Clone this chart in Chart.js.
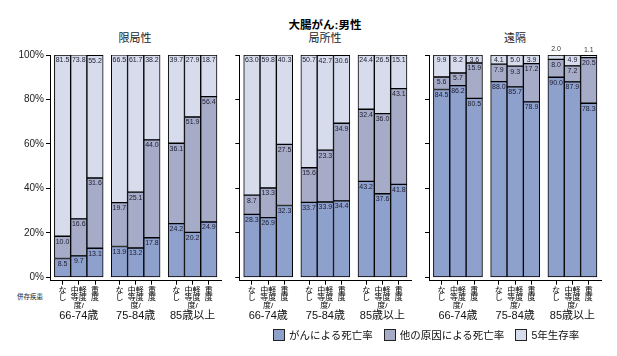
<!DOCTYPE html>
<html><head><meta charset="utf-8">
<script src="https://cdn.jsdelivr.net/npm/chart.js@4/dist/chart.umd.min.js"></script>
<style>
html,body{margin:0;padding:0;background:#fff;}
body{width:617px;height:356px;position:relative;overflow:hidden;font-family:"Liberation Sans","Noto Sans CJK JP",sans-serif;color:#222;}
canvas{position:absolute;top:0;}
.t{position:absolute;transform:translate(-50%,-50%);white-space:nowrap;}
#legend{position:absolute;left:273px;top:327px;display:flex;align-items:center;font-size:10.5px;color:#111;}
#legend .item{display:flex;align-items:center;margin-right:11px;}
#legend .box{width:10px;height:10px;border:1px solid #222;margin-right:4px;}
</style>
</head><body>
<div class="t" style="left:325px;top:24px;font-size:11.5px;font-weight:bold;color:#000;">大腸がん:男性</div>
<div id="ptitles"></div>
<div class="t" style="left:30px;top:296px;font-size:6.5px;color:#222;">併存疾患</div>
<canvas id="c0" width="232" height="356" style="left:0px"></canvas>
<canvas id="c1" width="192" height="356" style="left:228px"></canvas>
<canvas id="c2" width="192" height="356" style="left:418px"></canvas>
<div id="legend"></div>
<script>
// ---- data ----
const stages = ['限局性', '局所性', '遠隔'];
const ageGroups = ['66-74歳', '75-84歳', '85歳以上'];
const comorbidityLabels = [['な', 'し'], ['中軽', '等度', '度/'], ['重', '度']];
const seriesNames = ['がんによる死亡率', '他の原因による死亡率', '5年生存率'];
const seriesColors = ['#8ea0cc', '#a6acc8', '#d6dcec'];
const yTickValues = [0, 20, 40, 60, 80, 100];
const yTickLabels = ['0%', '20%', '40%', '60%', '80%', '100%'];

// order: age group x comorbidity (なし, 中等度/軽度, 重度)
const localizedCancer   = [8.5, 9.7, 13.1, 13.9, 13.2, 17.8, 24.2, 20.2, 24.9];
const localizedOther    = [10.0, 16.6, 31.6, 19.7, 25.1, 44.0, 36.1, 51.9, 56.4];
const localizedSurvival = [81.5, 73.8, 55.2, 66.5, 61.7, 38.2, 39.7, 27.9, 18.7];
const regionalCancer    = [28.3, 26.9, 32.3, 33.7, 33.9, 34.4, 43.2, 37.6, 41.8];
const regionalOther     = [8.7, 13.3, 27.5, 15.6, 23.3, 34.9, 32.4, 36.0, 43.1];
const regionalSurvival  = [63.0, 59.8, 40.3, 50.7, 42.7, 30.6, 24.4, 26.5, 15.1];
const distantCancer     = [84.5, 86.2, 80.5, 88.0, 85.7, 78.9, 90.0, 87.9, 78.3];
const distantOther      = [5.6, 5.7, 15.9, 7.9, 9.3, 17.2, 8.0, 7.2, 20.5];
const distantSurvival   = [9.9, 8.2, 3.6, 4.1, 5.0, 3.9, 2.0, 4.9, 1.1];

const panelSeries = [
  [localizedCancer, localizedOther, localizedSurvival],
  [regionalCancer, regionalOther, regionalSurvival],
  [distantCancer, distantOther, distantSurvival]
];

// ---- layout ----
const GROUP_PITCH = 3.5;
const xPos = i => Math.floor(i / 3) * GROUP_PITCH + (i % 3);
const barXs = localizedCancer.map((_, i) => xPos(i));
const groupCenters = ageGroups.map((_, g) => g * GROUP_PITCH + 1);
const XMIN = -0.77, XMAX = 9.79;
const FONT = '"Liberation Sans", "Noto Sans CJK JP", sans-serif';

const panels = [
  {id: 'c0', padL: 0, padR: 10.3, yW: 50, showY: true, titleX: 135},
  {id: 'c1', padL: 1.3, padR: 8.3, yW: 10, showY: false, titleX: 325},
  {id: 'c2', padL: 1, padR: 8.3, yW: 10, showY: false, titleX: 515}
];

const valueLabels = {
  id: 'valueLabels',
  afterDatasetsDraw(chart) {
    const ctx = chart.ctx;
    ctx.save();
    ctx.font = '7px ' + FONT;
    ctx.fillStyle = '#1c1c30';
    ctx.textAlign = 'center';
    chart.data.datasets.forEach((ds, di) => {
      const meta = chart.getDatasetMeta(di);
      meta.data.forEach((el, i) => {
        const v = ds.data[i].y;
        const txt = v.toFixed(1);
        if (v >= 3) {
          ctx.textBaseline = 'top';
          ctx.fillText(txt, el.x, el.y + 2);
        } else {
          ctx.textBaseline = 'bottom';
          ctx.fillStyle = '#333';
          ctx.fillText(txt, el.x, el.y - 2);
          ctx.fillStyle = '#1c1c30';
        }
      });
    });
    ctx.restore();
  }
};

panels.forEach((p, pi) => {
  const t = document.createElement('div');
  t.className = 't';
  t.style.cssText = `left:${p.titleX}px;top:37px;font-size:11px;color:#222;`;
  t.textContent = stages[pi];
  document.getElementById('ptitles').appendChild(t);

  new Chart(document.getElementById(p.id), {
    type: 'bar',
    data: {
      datasets: panelSeries[pi].map((vals, k) => ({
        label: seriesNames[k],
        data: vals.map((v, i) => ({x: xPos(i), y: v})),
        backgroundColor: seriesColors[k],
        borderColor: '#000',
        borderWidth: 1,
        borderSkipped: false,
        categoryPercentage: 1,
        barPercentage: 1,
        stack: 's'
      }))
    },
    options: {
      responsive: false,
      animation: false,
      events: [],
      layout: {padding: {left: p.padL, right: p.padR, top: 55, bottom: 26.3}},
      plugins: {legend: {display: false}, tooltip: {enabled: false}},
      scales: {
        x: {
          type: 'linear', min: XMIN, max: XMAX, stacked: true, offset: false,
          afterBuildTicks: s => { s.ticks = barXs.map(v => ({value: v})); },
          afterFit: s => { s.height = 28; },
          grid: {display: true, drawOnChartArea: false, color: '#000', tickLength: 4, offset: false},
          border: {display: true, color: '#000', width: 1},
          ticks: {autoSkip: false, maxRotation: 0, minRotation: 0, padding: 2, color: '#000',
                  font: {size: 8, family: FONT, lineHeight: 0.95},
                  callback: (v, i) => comorbidityLabels[i % 3]}
        },
        xAge: {
          type: 'linear', position: 'bottom', weight: 1, min: XMIN, max: XMAX, offset: false,
          afterBuildTicks: s => { s.ticks = groupCenters.map(v => ({value: v})); },
          afterFit: s => { s.height = 21; },
          grid: {display: false, drawTicks: false, drawOnChartArea: false},
          border: {display: false},
          ticks: {autoSkip: false, maxRotation: 0, minRotation: 0, padding: 1, color: '#111',
                  font: {size: 11, family: FONT}, callback: (v, i) => ageGroups[i]}
        },
        y: {
          stacked: true, min: -1.5, max: 100,
          afterBuildTicks: s => { s.ticks = yTickValues.map(v => ({value: v})); },
          afterFit: s => { s.width = p.yW; },
          grid: {drawOnChartArea: false, color: '#000', tickLength: 4},
          border: {display: true, color: '#000', width: 1},
          ticks: {display: p.showY, padding: 2, color: '#222', font: {size: 10, family: FONT},
                  callback: (v, i) => yTickLabels[i]}
        }
      }
    },
    plugins: [valueLabels]
  });
});

const legend = document.getElementById('legend');
seriesNames.forEach((n, k) => {
  const it = document.createElement('div');
  it.className = 'item';
  const b = document.createElement('div');
  b.className = 'box';
  b.style.background = seriesColors[k];
  const s = document.createElement('span');
  s.textContent = n;
  it.appendChild(b); it.appendChild(s);
  legend.appendChild(it);
});
</script>
</body></html>
